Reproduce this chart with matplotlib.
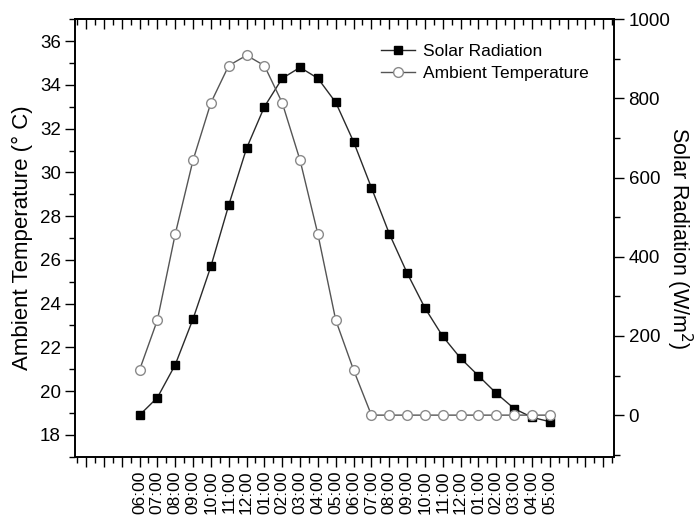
import matplotlib
matplotlib.use('Agg')
import matplotlib.pyplot as plt
import matplotlib.ticker as tk
import numpy as np

plt.rcParams['font.family'] = ['Liberation Sans', 'DejaVu Sans']

# time of day labels (24 hourly readings)
hours = ['06:00', '07:00', '08:00', '09:00', '10:00', '11:00', '12:00',
         '01:00', '02:00', '03:00', '04:00', '05:00',
         '06:00', '07:00', '08:00', '09:00', '10:00', '11:00', '12:00',
         '01:00', '02:00', '03:00', '04:00', '05:00']

# filled squares, read on the left axis (deg C)
square_vals = [18.9, 19.7, 21.2, 23.3, 25.7, 28.5, 31.1, 33.0, 34.3, 34.8,
               34.3, 33.2, 31.4, 29.3, 27.2, 25.4, 23.8, 22.5, 21.5, 20.7,
               19.9, 19.2, 18.8, 18.6]

# open circles, read on the right axis (W/m2)
circle_vals = [114, 240, 457, 644, 789, 883, 909, 883, 789, 644,
               457, 240, 114, 0, 0, 0, 0, 0, 0, 0,
               0, 0, 0, 0]

x = np.arange(len(hours))

fig = plt.figure(figsize=(6.96, 5.23), dpi=100)
ax = fig.add_axes([0.1082, 0.1268, 0.7740, 0.8363])
ax2 = ax.twinx()

l1, = ax.plot(x, square_vals, '-s', color='#2a2a2a', lw=1.0, ms=6,
              mfc='black', mec='black', label='Solar Radiation', zorder=3)
l2, = ax2.plot(x, circle_vals, '-o', color='#555555', lw=1.0, ms=7,
               mfc='white', mec='#8a8a8a', mew=1.0, label='Ambient Temperature')

ax.set_xlim(-3.6, 26.6)
ax.set_ylim(17, 37)
ax2.set_ylim(-105, 1000)

# x axis: hourly major ticks, half hour minor ticks
ax.set_xticks(np.arange(-3, 27))
ax.set_xticklabels([''] * 3 + hours + [''] * 3, rotation=90)
ax.xaxis.set_minor_locator(tk.MultipleLocator(0.5))
ax.tick_params(axis='x', which='major', direction='out', length=7, width=1, labelsize=12.5, pad=3)
ax.tick_params(axis='x', which='minor', direction='out', length=4, width=1)

top = ax.secondary_xaxis('top')
top.set_xticks(np.arange(-3, 27))
top.xaxis.set_minor_locator(tk.MultipleLocator(0.5))
top.tick_params(axis='x', which='major', direction='in', length=7, width=1, labeltop=False)
top.tick_params(axis='x', which='minor', direction='in', length=4, width=1)

ax.set_yticks(np.arange(18, 37, 2))
ax.yaxis.set_minor_locator(tk.MultipleLocator(1))
ax.tick_params(axis='y', which='major', direction='out', length=7, width=1, labelsize=13.5)
ax.tick_params(axis='y', which='minor', direction='out', length=4, width=1)

ax2.set_yticks(np.arange(0, 1001, 200))
ax2.yaxis.set_minor_locator(tk.MultipleLocator(100))
ax2.tick_params(axis='y', which='major', direction='out', length=7, width=1, labelsize=13.5)
ax2.tick_params(axis='y', which='minor', direction='out', length=4, width=1)

for a in [ax, ax2, top]:
    for s in a.spines.values():
        s.set_linewidth(1.2)

ax.set_ylabel('Ambient Temperature (\u00b0 C)', fontsize=16, labelpad=5)
ax2.set_ylabel('Solar Radiation (W/m$^2$)', fontsize=15.5, rotation=270, labelpad=17)

ax2.legend([l1, l2], ['Solar Radiation', 'Ambient Temperature'], loc='upper left',
           bbox_to_anchor=(0.544, 0.972), frameon=False, fontsize=12.5,
           handlelength=2.0, handletextpad=0.45, labelspacing=0.38, borderpad=0.2)

plt.savefig('out.png', dpi=100)
